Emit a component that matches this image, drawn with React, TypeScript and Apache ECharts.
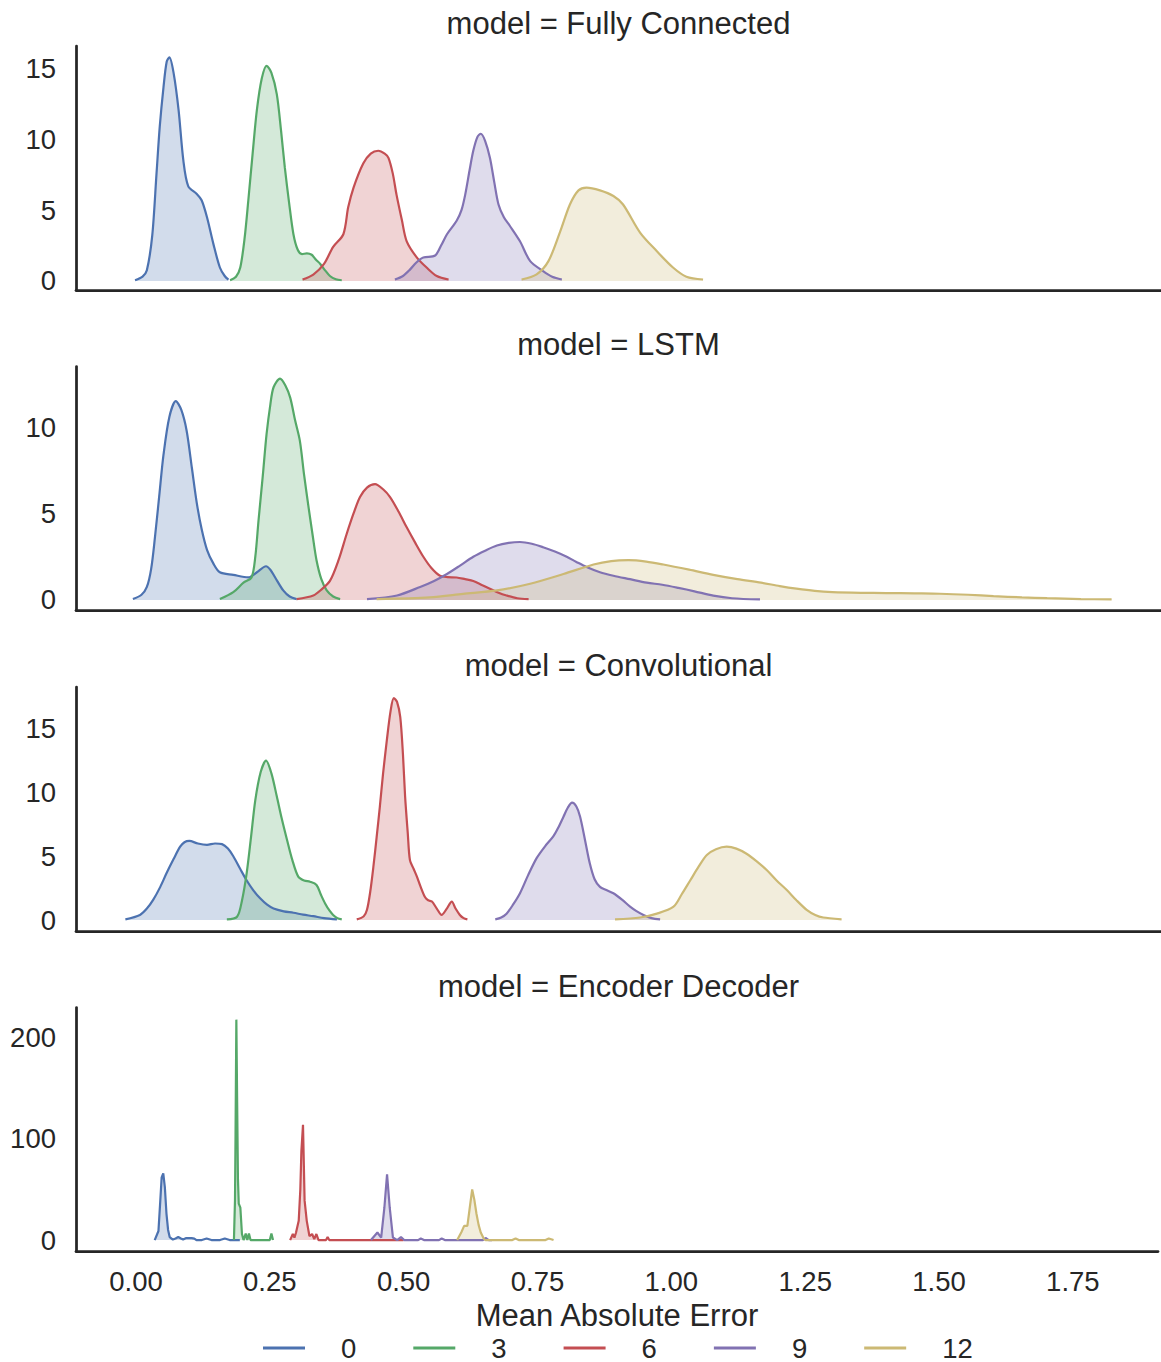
import React, { useEffect, useRef } from "react";
import * as echarts from "echarts";

const SERIES_NAMES = ["0", "3", "6", "9", "12"];
const COLORS = ["#4C72B0", "#55A868", "#C44E52", "#8172B2", "#CCB974"];
const PANEL_TITLES = [
  "model = Fully Connected",
  "model = LSTM",
  "model = Convolutional",
  "model = Encoder Decoder",
];
const X_TICKS = [0, 0.25, 0.5, 0.75, 1.0, 1.25, 1.5, 1.75];
const Y_TICKS = [
  [0, 5, 10, 15],
  [0, 5, 10],
  [0, 5, 10, 15],
  [0, 100, 200],
];
const X_LABEL = "Mean Absolute Error";

// ---- Fully Connected ----
const fc0 = [[-0.002,0.05],[0.012,0.3],[0.020,0.75],[0.030,3.2],[0.038,7.6],[0.044,10.9],[0.051,13.7],[0.057,15.5],[0.062,15.8],[0.070,14.65],[0.079,12.1],[0.088,8.5],[0.097,6.7],[0.113,6.15],[0.122,5.7],[0.132,4.5],[0.144,2.6],[0.156,0.95],[0.165,0.35],[0.172,0.1]];
const fc3 = [[0.175,0.05],[0.186,0.3],[0.194,0.95],[0.202,3.0],[0.209,5.7],[0.217,9.0],[0.225,12.1],[0.234,14.3],[0.243,15.2],[0.252,14.7],[0.262,13.2],[0.270,10.6],[0.277,8.0],[0.285,5.5],[0.293,3.3],[0.301,2.2],[0.309,1.9],[0.318,1.95],[0.327,1.85],[0.335,1.5],[0.343,1.2],[0.352,0.75],[0.361,0.35],[0.372,0.12],[0.383,0.05]];
const fc6 = [[0.310,0.1],[0.330,0.45],[0.350,1.2],[0.367,2.4],[0.386,3.3],[0.395,5.2],[0.405,6.6],[0.423,8.3],[0.437,9.0],[0.451,9.2],[0.463,9.0],[0.470,8.7],[0.478,7.6],[0.485,6.1],[0.495,4.3],[0.504,2.8],[0.523,1.65],[0.541,0.95],[0.560,0.35],[0.582,0.1]];
const fc9 = [[0.482,0.1],[0.497,0.35],[0.510,0.8],[0.522,1.3],[0.535,1.65],[0.557,1.8],[0.568,2.5],[0.579,3.3],[0.597,4.25],[0.606,5.0],[0.613,6.1],[0.621,7.8],[0.628,9.2],[0.636,10.2],[0.642,10.4],[0.650,9.9],[0.659,8.7],[0.667,7.0],[0.675,5.4],[0.685,4.5],[0.696,3.9],[0.715,2.8],[0.734,1.4],[0.758,0.7],[0.775,0.3],[0.793,0.1]];
const fc12 = [[0.718,0.1],[0.746,0.47],[0.768,1.4],[0.790,3.5],[0.808,5.4],[0.824,6.4],[0.839,6.6],[0.864,6.4],[0.889,6.0],[0.907,5.4],[0.939,3.4],[0.970,2.1],[1.000,0.95],[1.025,0.3],[1.056,0.1]];

// ---- LSTM ----
const lstm0 = [[-0.006,0.05],[0.010,0.3],[0.020,0.75],[0.028,1.8],[0.035,3.6],[0.043,6.0],[0.051,8.4],[0.062,10.6],[0.074,11.5],[0.084,11.0],[0.094,9.8],[0.104,7.6],[0.113,5.6],[0.122,4.1],[0.132,2.9],[0.144,2.1],[0.156,1.6],[0.181,1.45],[0.209,1.3],[0.225,1.6],[0.242,1.95],[0.250,1.75],[0.259,1.3],[0.274,0.55],[0.286,0.2],[0.299,0.05]];
const lstm3 = [[0.156,0.05],[0.181,0.45],[0.200,1.0],[0.215,1.3],[0.222,2.5],[0.228,4.6],[0.236,7.2],[0.243,9.6],[0.250,11.3],[0.256,12.3],[0.268,12.8],[0.278,12.4],[0.287,11.7],[0.296,10.4],[0.305,9.2],[0.313,7.2],[0.321,5.4],[0.329,3.7],[0.336,2.3],[0.345,1.2],[0.355,0.55],[0.367,0.2],[0.380,0.05]];
const lstm6 = [[0.299,0.05],[0.330,0.26],[0.345,0.6],[0.361,1.1],[0.377,2.3],[0.392,3.8],[0.405,5.0],[0.417,5.95],[0.430,6.5],[0.445,6.7],[0.460,6.4],[0.473,5.95],[0.489,5.1],[0.504,4.2],[0.520,3.3],[0.535,2.5],[0.550,1.85],[0.566,1.4],[0.580,1.32],[0.597,1.3],[0.613,1.2],[0.628,1.1],[0.645,0.85],[0.659,0.65],[0.675,0.42],[0.690,0.26],[0.710,0.1],[0.731,0.05]];
const lstm9 = [[0.430,0.05],[0.486,0.26],[0.529,0.75],[0.555,1.1],[0.579,1.5],[0.604,2.0],[0.628,2.5],[0.650,2.85],[0.672,3.15],[0.694,3.3],[0.715,3.35],[0.737,3.25],[0.758,3.05],[0.780,2.8],[0.802,2.5],[0.820,2.2],[0.839,1.9],[0.864,1.6],[0.889,1.4],[0.920,1.2],[0.951,1.0],[0.980,0.88],[1.010,0.7],[1.040,0.5],[1.075,0.25],[1.110,0.1],[1.162,0.03]];
const lstm12 = [[0.448,0.05],[0.547,0.15],[0.609,0.35],[0.672,0.55],[0.734,0.94],[0.796,1.5],[0.852,2.05],[0.885,2.25],[0.917,2.3],[0.950,2.22],[0.982,2.05],[1.030,1.75],[1.075,1.45],[1.120,1.2],[1.164,1.0],[1.199,0.8],[1.230,0.65],[1.264,0.52],[1.297,0.45],[1.350,0.41],[1.397,0.4],[1.450,0.38],[1.497,0.36],[1.550,0.3],[1.597,0.22],[1.650,0.15],[1.697,0.1],[1.760,0.05],[1.817,0.03]];

// ---- Convolutional ----
const conv0 = [[-0.020,0.05],[0.007,0.4],[0.020,0.9],[0.032,1.6],[0.045,2.6],[0.057,3.7],[0.070,4.8],[0.082,5.75],[0.090,6.1],[0.099,6.2],[0.115,6.0],[0.132,5.9],[0.147,6.0],[0.160,5.95],[0.171,5.6],[0.181,5.0],[0.194,4.0],[0.206,3.1],[0.218,2.35],[0.231,1.7],[0.244,1.2],[0.256,0.9],[0.275,0.68],[0.293,0.57],[0.311,0.42],[0.330,0.3],[0.350,0.15],[0.374,0.05]];
const conv3 = [[0.169,0.05],[0.188,0.26],[0.197,1.5],[0.206,3.7],[0.214,6.5],[0.222,9.4],[0.232,11.6],[0.242,12.5],[0.252,11.5],[0.262,9.7],[0.271,8.0],[0.281,6.3],[0.291,4.7],[0.302,3.4],[0.313,3.1],[0.324,3.0],[0.336,2.75],[0.344,2.0],[0.352,1.3],[0.360,0.75],[0.367,0.4],[0.375,0.15],[0.383,0.05]];
const conv6 = [[0.411,0.05],[0.424,0.3],[0.430,0.8],[0.436,2.2],[0.442,4.2],[0.448,6.5],[0.454,8.9],[0.460,11.5],[0.467,14.1],[0.474,16.4],[0.480,17.4],[0.486,17.1],[0.492,15.9],[0.497,13.0],[0.501,9.7],[0.506,6.8],[0.510,4.7],[0.517,4.0],[0.523,3.4],[0.530,2.6],[0.538,1.8],[0.544,1.55],[0.551,1.45],[0.560,0.9],[0.569,0.4],[0.578,0.85],[0.588,1.45],[0.595,0.9],[0.603,0.4],[0.610,0.15],[0.617,0.05]];
const conv9 = [[0.669,0.05],[0.680,0.2],[0.690,0.5],[0.702,1.2],[0.715,2.1],[0.730,3.5],[0.746,4.85],[0.762,5.8],[0.777,6.55],[0.787,7.3],[0.796,8.1],[0.804,8.8],[0.812,9.2],[0.820,8.9],[0.827,8.1],[0.836,6.3],[0.845,4.45],[0.854,3.2],[0.864,2.6],[0.876,2.35],[0.889,2.1],[0.905,1.6],[0.920,1.05],[0.932,0.7],[0.945,0.4],[0.960,0.15],[0.976,0.05]];
const conv12 = [[0.892,0.05],[0.939,0.2],[0.970,0.5],[1.001,1.05],[1.016,2.0],[1.032,3.1],[1.048,4.2],[1.063,5.1],[1.080,5.55],[1.100,5.75],[1.118,5.6],[1.137,5.2],[1.156,4.6],[1.175,3.9],[1.193,3.1],[1.212,2.35],[1.230,1.55],[1.249,0.8],[1.265,0.4],[1.280,0.2],[1.314,0.05]];

// ---- Encoder Decoder ----
const ed0 = [[0.035,0],[0.042,9],[0.045,35],[0.048,62],[0.051,66],[0.054,52],[0.057,26],[0.060,10],[0.063,3],[0.069,0.5],[0.074,1.5],[0.079,3],[0.084,1.5],[0.088,0.5],[0.094,2],[0.104,2],[0.109,1.5],[0.113,0],[0.123,0],[0.132,1.6],[0.141,0],[0.157,0],[0.166,1.6],[0.175,0],[0.194,0]];
const ed3 = [[0.183,0],[0.185,40],[0.186,105],[0.1875,218],[0.189,137],[0.1905,60],[0.192,36],[0.195,32],[0.198,6],[0.201,0],[0.205,6.5],[0.208,0],[0.211,6.5],[0.214,0],[0.250,0],[0.253,6.5],[0.256,0]];
const ed6 = [[0.288,0],[0.293,6],[0.296,2.5],[0.299,7.5],[0.304,19],[0.307,50],[0.309,88],[0.312,114],[0.315,39],[0.319,19],[0.324,4],[0.329,6],[0.333,1],[0.337,6],[0.341,0],[0.355,0],[0.358,3],[0.361,0],[0.500,0]];
const ed9 = [[0.439,0],[0.451,7.5],[0.458,2.5],[0.464,32],[0.469,65],[0.474,32],[0.480,2.5],[0.488,0],[0.495,3],[0.501,0],[0.527,0],[0.532,1.6],[0.538,0],[0.566,0],[0.571,1.6],[0.577,0],[0.648,0],[0.653,2],[0.659,0],[0.665,0]];
const ed12 = [[0.600,0],[0.608,8],[0.613,14],[0.619,14],[0.623,30],[0.628,50],[0.632,40],[0.636,26],[0.640,15],[0.644,7.5],[0.650,1],[0.653,0],[0.703,0],[0.709,1.6],[0.715,0],[0.765,0],[0.771,1.6],[0.780,0]];

const PANEL_DATA = [
  [fc0, fc3, fc6, fc9, fc12],
  [lstm0, lstm3, lstm6, lstm9, lstm12],
  [conv0, conv3, conv6, conv9, conv12],
  [ed0, ed3, ed6, ed9, ed12],
];

const FONT = '"Liberation Sans", Arial, sans-serif';
const INK = "#262626";

const X_MIN = -0.112;
const X_MAX = 1.909;
const Y_RANGES = [
  [-0.64, 16.6],
  [-0.61, 13.5],
  [-0.86, 18.27],
  [-11.3, 230],
];
const GRID_TOPS = [46, 366.5, 687, 1007.5];
const GRID_HEIGHT = 244;
const GRID_LEFT = 76;
const TITLE_Y = [23, 344, 665, 986];

function isTick(v: number, ticks: number[]) {
  return ticks.some((t) => Math.abs(t - v) < 1e-6);
}

export default function App() {
  const ref = useRef<HTMLDivElement>(null);

  useEffect(() => {
    if (!ref.current) return;
    const chart = echarts.init(ref.current, null, { renderer: "svg" });

    const grids = GRID_TOPS.map((top) => ({
      left: GRID_LEFT,
      right: 0,
      top,
      height: GRID_HEIGHT,
      containLabel: false,
    }));

    const xAxes = GRID_TOPS.map((_, i) => ({
      type: "value",
      gridIndex: i,
      min: X_MIN,
      max: X_MAX,
      minInterval: 0.25,
      maxInterval: 0.25,
      splitLine: { show: false },
      axisTick: { show: false },
      axisLine: { show: true, onZero: false, lineStyle: { color: INK, width: 2.75 } },
      axisLabel: {
        show: i === 3,
        margin: 16,
        fontSize: 27.5,
        color: INK,
        fontFamily: FONT,
        formatter: (v: number) => (isTick(v, X_TICKS) ? v.toFixed(2) : ""),
      },
      name: i === 3 ? X_LABEL : "",
      nameLocation: "middle",
      nameGap: 48,
      nameTextStyle: { fontSize: 31, color: INK, fontFamily: FONT },
    }));

    const yAxes = GRID_TOPS.map((_, i) => ({
      type: "value",
      gridIndex: i,
      min: Y_RANGES[i][0],
      max: Y_RANGES[i][1],
      splitNumber: 3,
      splitLine: { show: false },
      axisTick: { show: false },
      axisLine: { show: true, onZero: false, lineStyle: { color: INK, width: 2.75 } },
      axisLabel: {
        margin: 20,
        fontSize: 27.5,
        color: INK,
        fontFamily: FONT,
        formatter: (v: number) => (isTick(v, Y_TICKS[i]) ? String(Math.round(v)) : ""),
      },
    }));

    const series: any[] = [];
    PANEL_DATA.forEach((panel, i) => {
      panel.forEach((data, k) => {
        series.push({
          type: "line",
          name: SERIES_NAMES[k],
          xAxisIndex: i,
          yAxisIndex: i,
          data,
          showSymbol: false,
          symbol: "none",
          smooth: i < 3 ? 0.3 : false,
          silent: true,
          color: COLORS[k],
          lineStyle: { color: COLORS[k], width: 2.2 },
          itemStyle: { color: COLORS[k] },
          areaStyle: { color: COLORS[k], opacity: 0.25 },
          emphasis: { disabled: true },
        });
      });
    });

    const titles = PANEL_TITLES.map((t, i) => ({
      type: "text",
      x: GRID_LEFT + (1161 - GRID_LEFT) / 2,
      y: TITLE_Y[i],
      style: {
        text: t,
        fontSize: 31,
        fontFamily: FONT,
        fill: INK,
        align: "center",
        verticalAlign: "middle",
      },
    }));

    chart.setOption({
      animation: false,
      backgroundColor: "#ffffff",
      textStyle: { fontFamily: FONT },
      grid: grids,
      xAxis: xAxes,
      yAxis: yAxes,
      series,
      graphic: titles,
      legend: {
        data: SERIES_NAMES,
        top: 1334,
        left: 263,
        padding: 0,
        icon: "rect",
        itemWidth: 42,
        itemHeight: 3,
        itemGap: 57,
        selectedMode: false,
        textStyle: {
          fontSize: 27.5,
          color: INK,
          fontFamily: FONT,
          padding: [0, 0, 0, 31],
        },
      },
    });

    return () => chart.dispose();
  }, []);

  return (
    <div
      ref={ref}
      style={{ position: "absolute", left: 0, top: 0, width: 1161, height: 1362 }}
    />
  );
}
